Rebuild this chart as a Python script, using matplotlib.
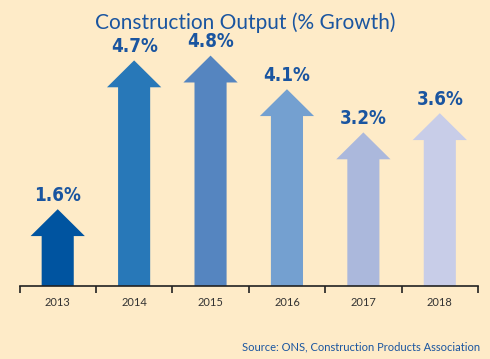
import matplotlib
matplotlib.use("Agg")
import matplotlib.pyplot as plt

# ===============================
# Data
# ===============================
years = ["2013", "2014", "2015", "2016", "2017", "2018"]
growth = [1.6, 4.7, 4.8, 4.1, 3.2, 3.6]
colors = ["#0054a0", "#2878b8", "#5585c0", "#74a0d0", "#abb8dc", "#c8cde8"]

BG = "#feebc8"
TEXT_BLUE = "#1a55a0"

fig = plt.figure(figsize=(4.9, 3.59), dpi=100, facecolor=BG)
ax = fig.add_axes([19.5 / 490, 73 / 359, 458.5 / 490, 246 / 359])
ax.set_facecolor(BG)

# ===============================
# Arrows
# ===============================
for i, (v, c) in enumerate(zip(growth, colors)):
    ax.arrow(i, 0, 0, v, width=0.42, head_width=0.71, head_length=0.56,
             length_includes_head=True, color=c, linewidth=0)
    ax.annotate(f"{v:.1f}%", (i, v), xytext=(0, 3), textcoords="offset points",
                ha="center", va="bottom", fontsize=13.5, fontweight="bold",
                fontstretch="condensed", color=TEXT_BLUE, family="DejaVu Sans")

ax.set_xlim(-0.5, len(years) - 0.5)
ax.set_ylim(0, 246 / 48)

for side in ["top", "right", "left"]:
    ax.spines[side].set_visible(False)
ax.spines["bottom"].set_color("#222222")
ax.spines["bottom"].set_linewidth(1.2)

ax.set_yticks([])
ax.set_xticks(range(len(years)))
ax.set_xticklabels(years, fontsize=8, color="#333333", family="Lato")
ax.tick_params(axis="x", which="major", length=0, pad=8)
ax.set_xticks([i - 0.5 for i in range(len(years) + 1)], minor=True)
ax.tick_params(axis="x", which="minor", length=5, width=1.2, color="#222222")

fig.text(0.5, 1 - 23 / 359, "Construction Output (% Growth)", ha="center", va="center",
         fontsize=15, color=TEXT_BLUE, family="Lato")
fig.text(480 / 490, 1 - 347 / 359, "Source: ONS, Construction Products Association",
         ha="right", va="center", fontsize=8, color=TEXT_BLUE, family="Lato")

fig.savefig("out.png", dpi=100, facecolor=BG)
